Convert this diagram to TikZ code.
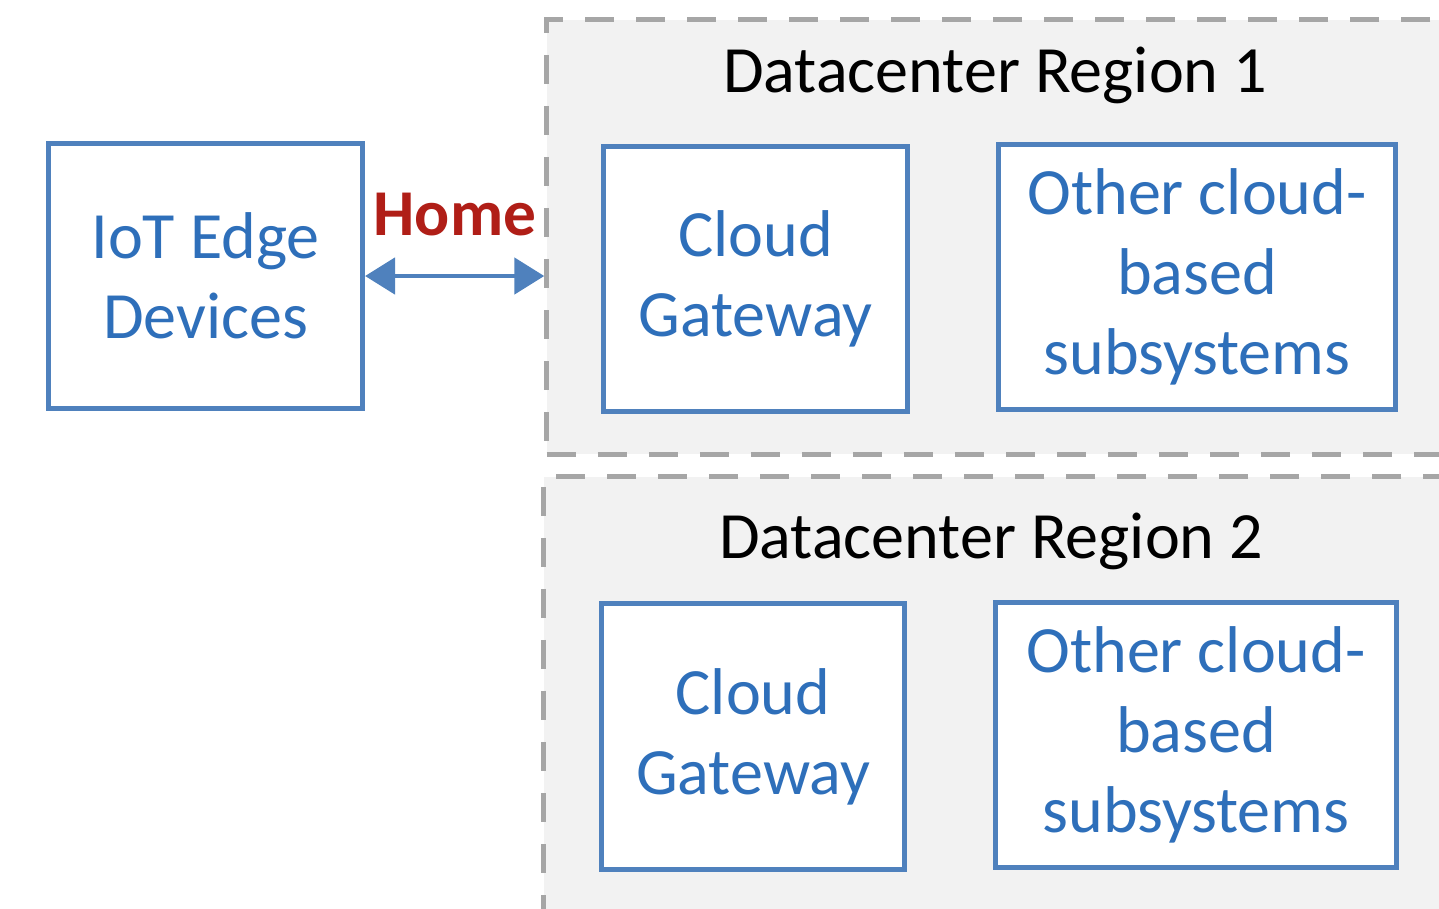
\documentclass[tikz,border=0pt]{standalone}
\usepackage{fontspec}
\setmainfont{Carlito}
\usetikzlibrary{arrows.meta}

\begin{document}
\begin{tikzpicture}[x=0.01cm, y=-0.01cm,
    regionBox/.style={rectangle, draw=dashColour, fill=regionFill, line width=1.4pt,
        dash pattern=on 0.29cm off 0.22cm, inner sep=0pt},
    partBox/.style={rectangle, draw=borderColour, fill=white, line width=1.4pt,
        inner sep=0pt, align=center, text=textColour,
        font=\fontsize{18.8}{22.8}\selectfont},
    regionTitle/.style={anchor=base, font=\fontsize{18.8}{22}\selectfont},
    homeArrow/.style={draw=borderColour, line width=1.4pt,
        {Triangle[length=0.3cm, width=0.36cm]}-{Triangle[length=0.3cm, width=0.36cm]}}]

    \definecolor{borderColour}{HTML}{4F81BD}
    \definecolor{textColour}{HTML}{2E6FBA}
    \definecolor{dashColour}{HTML}{A6A6A6}
    \definecolor{regionFill}{HTML}{F2F2F2}
    \definecolor{homeColour}{HTML}{B01E17}

    \useasboundingbox (0,0) rectangle (1439,908);

    % Datacenter regions (cut off at the right and bottom)
    \node[regionBox, minimum width=9.13cm, minimum height=4.34cm] (dc1) at (1003.5,237) {};
    \node[regionBox, minimum width=9.16cm, minimum height=4.53cm] (dc2) at (1002,703.5) {};
    \node[regionTitle] (title1) at (995,92) {Datacenter Region 1};
    \node[regionTitle] (title2) at (991,558) {Datacenter Region 2};

    % Devices
    \node[partBox, minimum width=3.14cm, minimum height=2.65cm] (iot) at (205.5,276) {IoT Edge\\Devices};

    % Region 1 parts
    \node[partBox, minimum width=3.04cm, minimum height=2.65cm] (gw1) at (755.5,279) {Cloud\\Gateway};
    \node[partBox, minimum width=3.97cm, minimum height=2.64cm] (sub1) at (1197,277) {Other cloud-\\based\\subsystems};

    % Region 2 parts
    \node[partBox, minimum width=3.03cm, minimum height=2.66cm] (gw2) at (753,736.5) {Cloud\\Gateway};
    \node[partBox, minimum width=4.01cm, minimum height=2.65cm] (sub2) at (1196,735) {Other cloud-\\based\\subsystems};

    % Home link
    \draw[homeArrow] (iot.east) -- (iot.east -| dc1.west);
    \node[anchor=base, text=homeColour, font=\fontsize{18.6}{22}\selectfont\bfseries] (home) at (455,235) {Home};

\end{tikzpicture}
\end{document}
